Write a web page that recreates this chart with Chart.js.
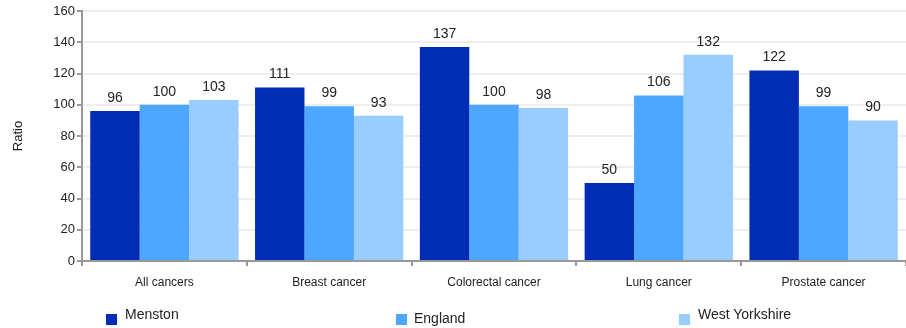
<!DOCTYPE html>
<html>
<head>
<meta charset="utf-8">
<script src="https://cdn.jsdelivr.net/npm/chart.js@4"></script>
<style>
  html, body { margin: 0; padding: 0; background: #fff; }
  #wrap { position: relative; width: 906px; height: 328px; }
  .legend-item { position: absolute; font: 14px "Liberation Sans", Arial, sans-serif; color: #222; }
  .legend-item span.box { position: absolute; width: 11px; height: 11px; }
</style>
</head>
<body>
<div id="wrap">
  <canvas id="chart" width="906" height="328"></canvas>
  <div id="legend"></div>
</div>
<script>
const categories = ["All cancers", "Breast cancer", "Colorectal cancer", "Lung cancer", "Prostate cancer"];
const seriesNames = ["Menston", "England", "West Yorkshire"];
const menston = [96, 111, 137, 50, 122];
const england = [100, 99, 100, 106, 99];
const westYorkshire = [103, 93, 98, 132, 90];
const colours = ["#002db3", "#4da6ff", "#99ccff"];
const yTicks = [0, 20, 40, 60, 80, 100, 120, 140, 160];

// Подписи значений над столбцами
const valueLabels = {
  id: "valueLabels",
  afterDatasetsDraw(chart) {
    const ctx = chart.ctx;
    ctx.save();
    ctx.font = "14px 'Liberation Sans', Arial, sans-serif";
    ctx.fillStyle = "#222";
    ctx.textAlign = "center";
    ctx.textBaseline = "bottom";
    chart.data.datasets.forEach((ds, i) => {
      chart.getDatasetMeta(i).data.forEach((bar, j) => {
        ctx.fillText(ds.data[j], bar.x, bar.y - 6);
      });
    });
    ctx.restore();
  },
};

const ctx = document.getElementById("chart").getContext("2d");
new Chart(ctx, {
  type: "bar",
  data: {
    labels: categories,
    datasets: [
      { label: seriesNames[0], data: menston, backgroundColor: colours[0] },
      { label: seriesNames[1], data: england, backgroundColor: colours[1] },
      { label: seriesNames[2], data: westYorkshire, backgroundColor: colours[2] },
    ],
  },
  options: {
    responsive: false,
    animation: false,
    layout: { padding: { top: 11, right: 0, left: 0, bottom: 0 } },
    datasets: { bar: { categoryPercentage: 0.9, barPercentage: 1.0 } },
    plugins: {
      legend: { display: false },
      tooltip: { enabled: false },
    },
    scales: {
      x: {
        grid: {
          drawOnChartArea: false,
          drawTicks: true,
          tickLength: 5,
          tickColor: "#999",
          lineWidth: 2,
        },
        border: { color: "#999", width: 2 },
        ticks: {
          color: "#222",
          font: { family: "'Liberation Sans', Arial, sans-serif", size: 12 },
          padding: 9,
          maxRotation: 0,
        },
        afterFit(scale) { scale.height = 67; },
      },
      y: {
        min: 0,
        max: 160,
        afterBuildTicks(scale) { scale.ticks = yTicks.map((v) => ({ value: v })); },
        grid: {
          color: "#eeeeee",
          lineWidth: 2,
          tickLength: 5,
          tickColor: "#999",
        },
        border: { color: "#999", width: 2 },
        ticks: {
          color: "#222",
          font: { family: "'Liberation Sans', Arial, sans-serif", size: 13 },
          padding: 2,
        },
        title: {
          display: true,
          text: "Ratio",
          color: "#222",
          font: { family: "'Liberation Sans', Arial, sans-serif", size: 13 },
          padding: { top: 11, bottom: 0 },
        },
        afterFit(scale) { scale.width = 82; },
      },
    },
  },
  plugins: [valueLabels],
});

// Легенда внизу
const legendPos = [
  { box: [106, 314], text: [125, 306] },
  { box: [396, 314], text: [414, 310] },
  { box: [679, 314], text: [698, 306] },
];
const legend = document.getElementById("legend");
seriesNames.forEach((name, i) => {
  const p = legendPos[i];
  const box = document.createElement("div");
  box.className = "legend-item";
  box.style.left = p.box[0] + "px";
  box.style.top = p.box[1] + "px";
  box.innerHTML = '<span class="box" style="background:' + colours[i] + '"></span>';
  legend.appendChild(box);
  const txt = document.createElement("div");
  txt.className = "legend-item";
  txt.style.left = p.text[0] + "px";
  txt.style.top = p.text[1] + "px";
  txt.textContent = name;
  legend.appendChild(txt);
});
</script>
</body>
</html>
